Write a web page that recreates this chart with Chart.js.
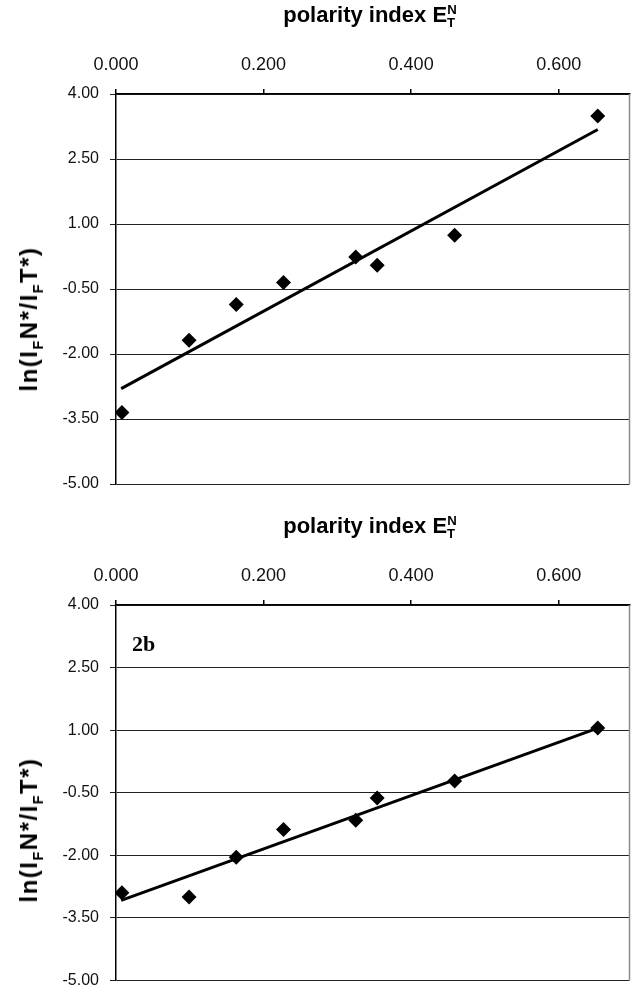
<!DOCTYPE html>
<html>
<head>
<meta charset="utf-8">
<script src="https://cdn.jsdelivr.net/npm/chart.js@4.4.1/dist/chart.umd.min.js"></script>
<style>
  html, body { margin: 0; padding: 0; background: #fff; width: 637px; height: 1001px; overflow: hidden; }
  .panel { position: absolute; left: 0; width: 637px; }
  #panel1 { top: 0; height: 511px; }
  #panel2 { top: 511px; height: 490px; }
  canvas { display: block; }
  .xtitle {
    position: absolute; left: 110px; width: 520px; top: 2px;
    text-align: center; line-height: 24px;
    font: bold 22px "Liberation Sans", Arial, sans-serif; color: #000;
  }
  .ytitle {
    position: absolute; left: 29px; top: 319px; width: 0; height: 0;
  }
  .ytitle span {
    position: absolute; left: 0; top: 0; white-space: nowrap;
    transform: translate(-50%, -50%) rotate(-90deg);
    font: bold 24px "Liberation Sans", Arial, sans-serif; color: #000;
    letter-spacing: 1.5px;
  }
  sub, sup { font-size: 60%; line-height: 0; }
  sup.stack { margin-left: -0.6em; }
  .tag {
    position: absolute; left: 132px; top: 120px; line-height: 21px;
    font: bold 22px "Liberation Serif", "Times New Roman", serif; color: #000;
  }
</style>
</head>
<body>
<div class="panel" id="panel1">
  <canvas id="chart1" width="637" height="511"></canvas>
  <div class="xtitle">polarity index E<sub>T</sub><sup class="stack">N</sup></div>
  <div class="ytitle"><span>ln(I<sub>F</sub>N*/I<sub>F</sub>T*)</span></div>
</div>
<div class="panel" id="panel2">
  <canvas id="chart2" width="637" height="490"></canvas>
  <div class="xtitle">polarity index E<sub>T</sub><sup class="stack">N</sup></div>
  <div class="ytitle"><span>ln(I<sub>F</sub>N*/I<sub>F</sub>T*)</span></div>
  <div class="tag">2b</div>
</div>
<script>
// polarity index of the solvents (same for both panels)
const polarity = [0.008, 0.099, 0.163, 0.227, 0.325, 0.354, 0.459, 0.653];

// panel 1 (upper)
const lnRatio1 = [-3.35, -1.68, -0.86, -0.35, 0.24, 0.05, 0.74, 3.49];
const trendX1 = [0.007, 0.653];
const trendY1 = [-2.80, 3.18];

// panel 2 (2b)
const lnRatio2 = [-2.90, -3.00, -2.05, -1.38, -1.16, -0.63, -0.22, 1.05];
const trendX2 = [0.007, 0.653];
const trendY2 = [-3.08, 1.05];

// axis ticks
const xTicks = [0, 0.2, 0.4, 0.6];
const yTicks = [-5, -3.5, -2, -0.5, 1, 2.5, 4];

const tickFontX = { family: 'Liberation Sans, Arial, sans-serif', size: 18 };
const tickFontY = { family: 'Liberation Sans, Arial, sans-serif', size: 16 };

// right hand border of the plot area
const frameBorder = {
    id: 'frameBorder',
    afterDraw(chart) {
        const { ctx, chartArea } = chart;
        ctx.save();
        ctx.strokeStyle = '#8a8a8a';
        ctx.lineWidth = 1.5;
        ctx.beginPath();
        ctx.moveTo(chartArea.right, chartArea.top);
        ctx.lineTo(chartArea.right, chartArea.bottom);
        ctx.stroke();
        ctx.restore();
    }
};

function makeChart(canvasId, ys, trendX, trendY, bottomPad) {
    const ctx = document.getElementById(canvasId).getContext('2d');
    return new Chart(ctx, {
        type: 'scatter',
        data: {
            datasets: [
                {
                    data: polarity.map((x, i) => ({ x: x, y: ys[i] })),
                    pointStyle: 'rectRot',
                    pointRadius: 7.5,
                    backgroundColor: '#000',
                    borderColor: '#000',
                    borderWidth: 0,
                    order: 0
                },
                {
                    type: 'line',
                    data: trendX.map((x, i) => ({ x: x, y: trendY[i] })),
                    borderColor: '#000',
                    borderWidth: 3,
                    pointRadius: 0,
                    fill: false,
                    order: 1
                }
            ]
        },
        options: {
            responsive: false,
            animation: false,
            layout: { padding: { top: 0, left: 0, right: 1, bottom: bottomPad } },
            plugins: {
                legend: { display: false },
                tooltip: { enabled: false }
            },
            scales: {
                x: {
                    type: 'linear',
                    position: 'top',
                    min: 0,
                    max: 0.696,
                    afterBuildTicks: s => { s.ticks = xTicks.map(v => ({ value: v })); },
                    afterFit: s => { s.height = 94; },
                    ticks: {
                        callback: v => v.toFixed(3),
                        font: tickFontX,
                        color: '#111',
                        padding: 13,
                        maxRotation: 0
                    },
                    grid: {
                        drawOnChartArea: false,
                        drawTicks: true,
                        tickLength: 5,
                        color: '#000',
                        lineWidth: 1.5
                    },
                    border: { color: '#000', width: 1.5 }
                },
                y: {
                    type: 'linear',
                    min: -5,
                    max: 4,
                    afterBuildTicks: s => { s.ticks = yTicks.map(v => ({ value: v })); },
                    afterFit: s => { s.width = 116; },
                    ticks: {
                        callback: v => v.toFixed(2),
                        font: tickFontY,
                        color: '#111',
                        padding: 11
                    },
                    grid: {
                        color: '#222',
                        lineWidth: 1,
                        tickLength: 6
                    },
                    border: { color: '#000', width: 1.5 }
                }
            }
        },
        plugins: [frameBorder]
    });
}

makeChart('chart1', lnRatio1, trendX1, trendY1, 27);
makeChart('chart2', lnRatio2, trendX2, trendY2, 7);
</script>
</body>
</html>
